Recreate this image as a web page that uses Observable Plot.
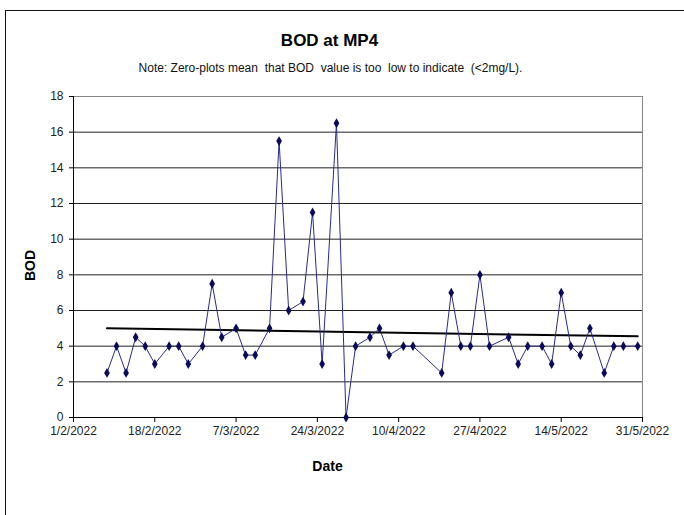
<!DOCTYPE html>
<html>
<head>
<meta charset="utf-8">
<script src="https://cdn.jsdelivr.net/npm/d3@7"></script>
<script src="https://cdn.jsdelivr.net/npm/@observablehq/plot@0.6"></script>
<style>
  html, body { margin: 0; padding: 0; background: #fff; width: 684px; height: 515px; overflow: hidden; }
  #frame { position: absolute; left: 5px; top: 10px; width: 720px; height: 600px; border: 1px solid #111; box-sizing: border-box; }
  #chart { position: absolute; left: 0; top: 0; }
</style>
</head>
<body>
<div id="frame"></div>
<div id="chart"></div>
<script>
const title = "BOD at MP4";
const subtitle = "Note: Zero-plots mean  that BOD  value is too  low to indicate  (<2mg/L).";
const xLabel = "Date";
const yLabel = "BOD";

const dates = ["8/2/2022","10/2/2022","12/2/2022","14/2/2022","16/2/2022","18/2/2022","21/2/2022","23/2/2022","25/2/2022","28/2/2022",
  "2/3/2022","4/3/2022","7/3/2022","9/3/2022","11/3/2022","14/3/2022","16/3/2022","18/3/2022","21/3/2022","23/3/2022",
  "25/3/2022","28/3/2022","30/3/2022","1/4/2022","4/4/2022","6/4/2022","8/4/2022","11/4/2022","13/4/2022","19/4/2022",
  "21/4/2022","23/4/2022","25/4/2022","27/4/2022","29/4/2022","3/5/2022","5/5/2022","7/5/2022","10/5/2022","12/5/2022",
  "14/5/2022","16/5/2022","18/5/2022","20/5/2022","23/5/2022","25/5/2022","27/5/2022","30/5/2022"];
const bod = [2.5,4,2.5,4.5,4,3,4,4,3,4,
  7.5,4.5,5,3.5,3.5,5,15.5,6,6.5,11.5,
  3,16.5,0,4,4.5,5,3.5,4,4,2.5,
  7,4,4,8,4,4.5,3,4,4,3,
  7,4,3.5,5,2.5,4,4,4];

const trendDates = ["8/2/2022","30/5/2022"];
const trendValues = [5.0, 4.55];

const xTickLabels = ["1/2/2022","18/2/2022","7/3/2022","24/3/2022","10/4/2022","27/4/2022","14/5/2022","31/5/2022"];
const yTicks = [0,2,4,6,8,10,12,14,16,18];

const parse = d3.utcParse("%d/%m/%Y");
const fmt = d3.utcFormat("%-d/%-m/%Y");
const data = dates.map((d, i) => ({date: parse(d), bod: bod[i]}));
const trend = trendDates.map((d, i) => ({date: parse(d), bod: trendValues[i]}));
const xTicks = xTickLabels.map(parse);
const gridTicks = yTicks.filter(v => v > 0 && v < 18);

const font = "'Liberation Sans', Arial, sans-serif";
const ml = 73, mr = 42, mt = 96, mb = 98;
const W = 684, H = 515;

const chart = Plot.plot({
  width: W,
  height: H,
  marginLeft: ml,
  marginRight: mr,
  marginTop: mt,
  marginBottom: mb,
  style: {fontFamily: font, fontSize: "12px", color: "#222", background: "transparent"},
  x: {type: "utc", domain: [xTicks[0], xTicks[xTicks.length - 1]]},
  y: {domain: [0, 18]},
  marks: [
    Plot.ruleY(gridTicks, {stroke: "#222", strokeWidth: 1}),
    Plot.frame({stroke: "#888", strokeWidth: 1}),
    Plot.axisX({ticks: xTicks, tickFormat: fmt, tickSize: 5, tickPadding: 4, label: null, stroke: "#000", fontSize: 12}),
    Plot.axisY({ticks: yTicks, tickSize: 4, tickPadding: 6, label: null, stroke: "#000", fontSize: 12}),
    Plot.ruleX([xTicks[0]], {stroke: "#000", strokeWidth: 1}),
    Plot.ruleY([0], {stroke: "#000", strokeWidth: 1}),
    Plot.line(trend, {x: "date", y: "bod", stroke: "#000", strokeWidth: 2}),
    Plot.line(data, {x: "date", y: "bod", stroke: "#2a2a8c", strokeWidth: 1}),
    Plot.dot(data, {x: "date", y: "bod", symbol: "diamond", r: 3, fill: "#0a0a5a", stroke: "none"}),
    Plot.text([title], {frameAnchor: "top-left", dx: 329 - ml, dy: 40 - mt, text: d => d, textAnchor: "middle", lineAnchor: "middle", fontSize: 17, fontWeight: "bold", fill: "#000"}),
    Plot.text([subtitle], {frameAnchor: "top-left", dx: 330 - ml, dy: 68 - mt, text: d => d, textAnchor: "middle", lineAnchor: "middle", fontSize: 12, fill: "#111"}),
    Plot.text([xLabel], {frameAnchor: "bottom-left", dx: 327 - ml, dy: 466 - (H - mb), text: d => d, textAnchor: "middle", lineAnchor: "middle", fontSize: 14, fontWeight: "bold", fill: "#000"}),
    Plot.text([yLabel], {frameAnchor: "top-left", dx: 30 - ml, dy: 265 - mt, text: d => d, textAnchor: "middle", lineAnchor: "middle", rotate: -90, fontSize: 14, fontWeight: "bold", fill: "#000"})
  ]
});
document.getElementById("chart").appendChild(chart);
</script>
</body>
</html>
